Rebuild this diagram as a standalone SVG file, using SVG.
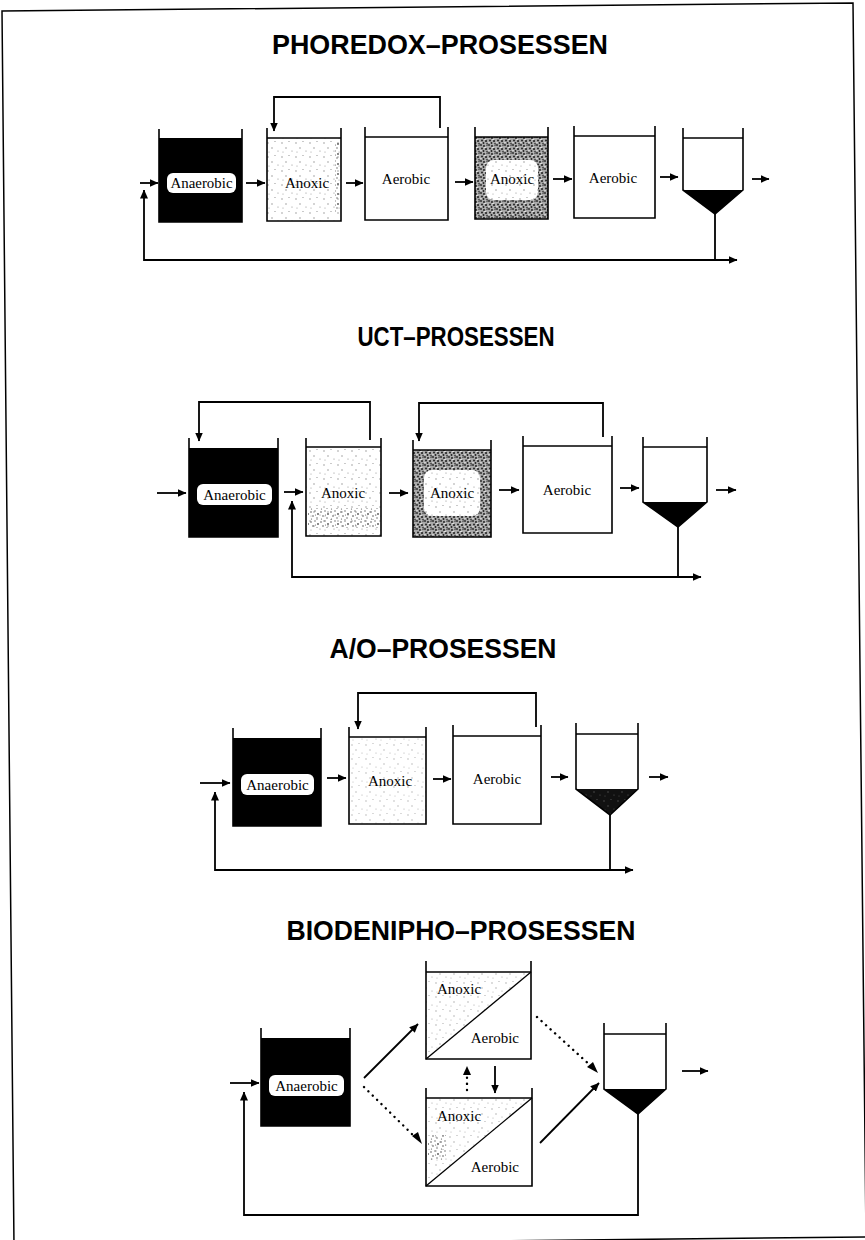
<svg xmlns="http://www.w3.org/2000/svg" width="865" height="1240" viewBox="0 0 865 1240">
<style>
.title{font-family:"Liberation Sans",Arial,sans-serif;font-weight:bold;font-size:27px;fill:#000;text-anchor:middle}
.lbl{font-family:"Liberation Serif","DejaVu Serif",serif;font-size:15px;fill:#000;text-anchor:middle}
.ls{text-anchor:start}
.le{text-anchor:end}
.wall{fill:none;stroke:#000;stroke-width:1.6}
.liq{stroke:#000;stroke-width:1.3}
.tag{fill:#fff;stroke:none}
.fl{fill:none;stroke:#000;stroke-width:1.8;marker-end:url(#ah)}
.dot{fill:none;stroke:#000;stroke-width:2.4;stroke-dasharray:0.1 6;stroke-linecap:round}
</style>
<defs>
<marker id="ah" markerUnits="userSpaceOnUse" markerWidth="9" markerHeight="8" refX="8.5" refY="4" orient="auto">
<path d="M0,0 L9,4 L0,8 z" fill="#000"/>
</marker>
<pattern id="speckL" width="14" height="14" patternUnits="userSpaceOnUse">
<g fill="#888"><circle cx="2" cy="3" r="0.7"/><circle cx="9" cy="1.5" r="0.6"/><circle cx="6" cy="8" r="0.7"/><circle cx="12" cy="11" r="0.6"/><circle cx="3" cy="12" r="0.5"/></g>
</pattern>
<pattern id="speckM" width="10" height="10" patternUnits="userSpaceOnUse">
<g fill="#555"><circle cx="1" cy="2" r="0.8"/><circle cx="5" cy="1" r="0.7"/><circle cx="8" cy="4" r="0.9"/><circle cx="3" cy="6" r="0.8"/><circle cx="7" cy="8" r="0.7"/><circle cx="1.5" cy="9" r="0.6"/><circle cx="5.5" cy="5" r="0.5"/></g>
</pattern>
<pattern id="speckD" width="8" height="8" patternUnits="userSpaceOnUse">
<rect width="8" height="8" fill="#aaa"/>
<g fill="#222"><circle cx="1" cy="1" r="0.9"/><circle cx="4" cy="2" r="1"/><circle cx="7" cy="1" r="0.8"/><circle cx="2" cy="4.5" r="1"/><circle cx="6" cy="5" r="1.1"/><circle cx="3.5" cy="7" r="0.9"/><circle cx="7" cy="7.5" r="0.7"/></g>
<g fill="#fff"><circle cx="5" cy="3.5" r="0.7"/><circle cx="1" cy="6.5" r="0.6"/><circle cx="6" cy="0.5" r="0.4"/></g>
</pattern>
</defs>
<rect width="865" height="1240" fill="#fff"/>
<polygon points="2,11 853,3 866,1237 14,1246" fill="none" stroke="#000" stroke-width="1.5"/>

<text class="title" x="440" y="54" textLength="336" lengthAdjust="spacingAndGlyphs">PHOREDOX–PROSESSEN</text>
<text class="title" x="456" y="346" textLength="197" lengthAdjust="spacingAndGlyphs">UCT–PROSESSEN</text>
<text class="title" x="443" y="658" textLength="227" lengthAdjust="spacingAndGlyphs">A/O–PROSESSEN</text>
<text class="title" x="461" y="940" textLength="349" lengthAdjust="spacingAndGlyphs">BIODENIPHO–PROSESSEN</text>

<!-- PHOREDOX -->
<g id="p-anaerobic">
<rect x="159" y="138" width="83" height="84" fill="#000"/>
<path class="wall" d="M159,129 V222 H242 V129"/>
<rect class="tag" x="167" y="173" width="69" height="20" rx="6"/>
<text class="lbl" x="201.5" y="188" textLength="62" lengthAdjust="spacingAndGlyphs">Anaerobic</text>
</g>
<g id="p-anoxic1">
<rect x="267" y="138" width="74" height="83" fill="url(#speckL)"/>
<rect x="335" y="142" width="5" height="70" fill="url(#speckM)"/>
<line class="liq" x1="267" y1="138" x2="341" y2="138"/>
<path class="wall" d="M267,128 V221 H341 V128"/>
<text class="lbl" x="307" y="188">Anoxic</text>
</g>
<g id="p-aerobic1">
<line class="liq" x1="365" y1="137" x2="448" y2="137"/>
<path class="wall" d="M365,127 V220 H448 V127"/>
<text class="lbl" x="406" y="184">Aerobic</text>
</g>
<g id="p-anoxic2">
<rect x="475" y="137" width="73" height="82" fill="url(#speckD)"/>
<rect x="486" y="160" width="52" height="40" rx="8" fill="#fff"/>
<rect x="486" y="160" width="52" height="40" rx="8" fill="url(#speckL)"/>
<line class="liq" x1="475" y1="137" x2="548" y2="137"/>
<path class="wall" d="M475,127 V219 H548 V127"/>
<text class="lbl" x="512" y="184">Anoxic</text>
</g>
<g id="p-aerobic2">
<line class="liq" x1="574" y1="136" x2="655" y2="136"/>
<path class="wall" d="M574,126 V218 H655 V126"/>
<text class="lbl" x="613" y="183">Aerobic</text>
</g>
<g id="p-clarifier">
<polygon points="683,190 743,190 715,214" fill="#000"/>
<line class="liq" x1="683" y1="138" x2="743" y2="138"/>
<path class="wall" d="M683,128 V190 L715,214 L743,190 V128"/>
</g>

<!-- UCT -->
<g id="u-anaerobic">
<rect x="189" y="448" width="89" height="89" fill="#000"/>
<path class="wall" d="M189,438 V537 H278 V438"/>
<rect class="tag" x="197" y="484" width="75" height="21" rx="6"/>
<text class="lbl" x="234.5" y="499.5" font-size="15.5">Anaerobic</text>
</g>
<g id="u-anoxic1">
<rect x="306" y="447" width="75" height="89" fill="url(#speckL)"/>
<rect x="308" y="508" width="72" height="20" fill="url(#speckM)"/>
<line class="liq" x1="306" y1="447" x2="381" y2="447"/>
<path class="wall" d="M306,438 V536 H381 V438"/>
<text class="lbl" x="343" y="498">Anoxic</text>
</g>
<g id="u-anoxic2">
<rect x="413" y="450" width="78" height="87" fill="url(#speckD)"/>
<rect x="424" y="470" width="56" height="46" rx="8" fill="#fff"/>
<rect x="424" y="470" width="56" height="46" rx="8" fill="url(#speckL)"/>
<line class="liq" x1="413" y1="450" x2="491" y2="450"/>
<path class="wall" d="M413,440 V537 H491 V440"/>
<text class="lbl" x="452" y="498">Anoxic</text>
</g>
<g id="u-aerobic">
<line class="liq" x1="523" y1="446" x2="612" y2="446"/>
<path class="wall" d="M523,436 V533 H612 V436"/>
<text class="lbl" x="567" y="495">Aerobic</text>
</g>
<g id="u-clarifier">
<polygon points="643,502 707,502 678,527" fill="#000"/>
<line class="liq" x1="643" y1="447" x2="707" y2="447"/>
<path class="wall" d="M643,437 V502 L678,527 L707,502 V437"/>
</g>

<!-- A/O -->
<g id="a-anaerobic">
<rect x="233" y="738" width="88" height="88" fill="#000"/>
<path class="wall" d="M233,728 V826 H321 V728"/>
<rect class="tag" x="241" y="774" width="73" height="21" rx="6"/>
<text class="lbl" x="277.5" y="790" font-size="15.5">Anaerobic</text>
</g>
<g id="a-anoxic">
<rect x="349" y="737" width="77" height="87" fill="url(#speckL)" opacity="0.7"/>
<line class="liq" x1="349" y1="737" x2="426" y2="737"/>
<path class="wall" d="M349,727 V824 H426 V727"/>
<text class="lbl" x="390" y="786">Anoxic</text>
</g>
<g id="a-aerobic">
<line class="liq" x1="453" y1="736" x2="541" y2="736"/>
<path class="wall" d="M453,725 V824 H541 V725"/>
<text class="lbl" x="497" y="784">Aerobic</text>
</g>
<g id="a-clarifier">
<polygon points="576,789 638,789 610,815" fill="#111"/>
<polygon points="576,789 638,789 610,815" fill="url(#speckL)" opacity="0.6"/>
<line class="liq" x1="576" y1="734" x2="638" y2="734"/>
<path class="wall" d="M576,723 V789 L610,815 L638,789 V723"/>
</g>

<!-- BIODENIPHO -->
<g id="b-anaerobic">
<rect x="261" y="1038" width="89" height="88" fill="#000"/>
<path class="wall" d="M261,1028 V1126 H350 V1028"/>
<rect class="tag" x="269" y="1075" width="75" height="21" rx="6"/>
<text class="lbl" x="306.5" y="1091" font-size="15.5">Anaerobic</text>
</g>
<g id="b-tank1">
<polygon points="426,972 531,972 426,1059" fill="url(#speckL)" opacity="0.8"/>
<line class="liq" x1="426" y1="972" x2="531" y2="972"/>
<path class="wall" d="M426,961 V1059 H531 V961"/>
<line class="liq" x1="426" y1="1059" x2="531" y2="972"/>
<text class="lbl ls" x="437" y="994">Anoxic</text>
<text class="lbl le" x="519" y="1043">Aerobic</text>
</g>
<g id="b-tank2">
<polygon points="426,1098 532,1098 426,1186" fill="url(#speckL)" opacity="0.8"/>
<rect x="428" y="1135" width="18" height="25" fill="url(#speckM)"/>
<line class="liq" x1="426" y1="1098" x2="532" y2="1098"/>
<path class="wall" d="M426,1088 V1186 H532 V1088"/>
<line class="liq" x1="426" y1="1186" x2="532" y2="1098"/>
<text class="lbl ls" x="437" y="1121">Anoxic</text>
<text class="lbl le" x="519" y="1172">Aerobic</text>
</g>
<g id="b-clarifier">
<polygon points="604,1089 666,1089 638,1114" fill="#000"/>
<line class="liq" x1="604" y1="1034" x2="666" y2="1034"/>
<path class="wall" d="M604,1023 V1089 L638,1114 L666,1089 V1023"/>
</g>

<g id="connectors">
<!-- Phoredox -->
<line class="fl" x1="140" y1="183" x2="158" y2="183"/>
<line class="fl" x1="246" y1="183" x2="265" y2="183"/>
<line class="fl" x1="346" y1="183" x2="363" y2="183"/>
<line class="fl" x1="455" y1="182" x2="473" y2="182"/>
<line class="fl" x1="553" y1="179" x2="572" y2="179"/>
<line class="fl" x1="660" y1="177" x2="678" y2="177"/>
<line class="fl" x1="752" y1="179" x2="769" y2="179"/>
<path class="fl" d="M440,128 V97 H274 V131"/>
<path class="fl" d="M715,214 V260 H737"/>
<path class="fl" d="M715,260 H144 V190"/>
<!-- UCT -->
<line class="fl" x1="157" y1="493" x2="186" y2="493"/>
<line class="fl" x1="284" y1="492" x2="303" y2="492"/>
<line class="fl" x1="389" y1="493" x2="408" y2="493"/>
<line class="fl" x1="499" y1="490" x2="519" y2="490"/>
<line class="fl" x1="620" y1="488" x2="639" y2="488"/>
<line class="fl" x1="716" y1="490" x2="736" y2="490"/>
<path class="fl" d="M370,440 V402 H199 V441"/>
<path class="fl" d="M603,437 V403 H419 V441"/>
<path class="fl" d="M678,527 V577 H701"/>
<path class="fl" d="M678,577 H292 V501"/>
<!-- A/O -->
<line class="fl" x1="200" y1="783" x2="230" y2="783"/>
<line class="fl" x1="327" y1="778" x2="346" y2="778"/>
<line class="fl" x1="433" y1="779" x2="451" y2="779"/>
<line class="fl" x1="551" y1="777" x2="568" y2="777"/>
<line class="fl" x1="649" y1="777" x2="668" y2="777"/>
<path class="fl" d="M536,727 V693 H358 V729"/>
<path class="fl" d="M610,815 V870 H633"/>
<path class="fl" d="M610,870 H215 V792"/>
<!-- Biodenipho -->
<line class="fl" x1="230" y1="1083" x2="259" y2="1083"/>
<line class="fl" x1="364" y1="1078" x2="418" y2="1024"/>
<line class="dot" x1="364" y1="1087" x2="416" y2="1138"/>
<path d="M412,1136 L422,1144 L418,1132 z" fill="#000"/>
<line class="dot" x1="467" y1="1090" x2="467" y2="1074"/>
<path d="M463,1075 L467,1066 L471,1075 z" fill="#000"/>
<line class="fl" x1="495" y1="1066" x2="495" y2="1093"/>
<line class="dot" x1="537" y1="1017" x2="591" y2="1066"/>
<path d="M587,1067 L598,1073 L593,1062 z" fill="#000"/>
<line class="fl" x1="540" y1="1143" x2="599" y2="1083"/>
<line class="fl" x1="682" y1="1071" x2="708" y2="1071"/>
<path class="fl" d="M638,1114 V1215 H244 V1092"/>
</g>
</svg>
